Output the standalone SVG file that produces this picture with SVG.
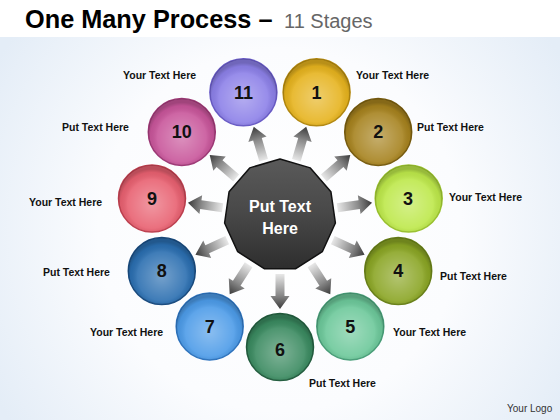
<svg xmlns="http://www.w3.org/2000/svg" width="560" height="420" viewBox="0 0 560 420">
<defs>
<radialGradient id="bg" cx="280" cy="230" r="330" gradientUnits="userSpaceOnUse">
<stop offset="0" stop-color="#ffffff"/>
<stop offset="0.55" stop-color="#fbfcfe"/>
<stop offset="1" stop-color="#e4edf7"/>
</radialGradient>
<radialGradient id="shade" cx="0.5" cy="0.58" r="0.52">
<stop offset="0" stop-color="#ffffff" stop-opacity="0.35"/>
<stop offset="0.7" stop-color="#ffffff" stop-opacity="0.1"/>
<stop offset="0.9" stop-color="#000000" stop-opacity="0.05"/>
<stop offset="1" stop-color="#000000" stop-opacity="0.2"/>
</radialGradient>
<linearGradient id="arr" x1="58" y1="0" x2="93" y2="0" gradientUnits="userSpaceOnUse">
<stop offset="0" stop-color="#e8e8e8"/>
<stop offset="0.6" stop-color="#8a8a8a"/>
<stop offset="1" stop-color="#3a3a3a"/>
</linearGradient>
<linearGradient id="hub" x1="0" y1="0" x2="0" y2="1">
<stop offset="0" stop-color="#5a5a5a"/>
<stop offset="0.5" stop-color="#484848"/>
<stop offset="1" stop-color="#2e2e2e"/>
</linearGradient>
<path id="ar" d="M58,-4.5 L80,-4.5 L80,-9.5 L93,0 L80,9.5 L80,4.5 L58,4.5 Z"/>
</defs>
<style>
.lbl{font-family:"Liberation Sans",Arial,sans-serif;font-weight:bold;font-size:10.5px;fill:#111}
.num{font-family:"Liberation Sans",Arial,sans-serif;font-weight:bold;font-size:18px;fill:#111;text-anchor:middle}
.ov{fill:url(#shade)}
.c{stroke-width:1.5}
</style>
<rect width="560" height="420" fill="url(#bg)"/>
<rect width="560" height="37" fill="#ffffff"/>
<text x="25" y="28" font-family="Liberation Sans,Arial,sans-serif" font-weight="bold" font-size="25.3" fill="#000">One Many Process –</text>
<text x="284" y="28" font-family="Liberation Sans,Arial,sans-serif" font-size="20" fill="#666">11 Stages</text>

<g id="connectors" fill="url(#arr)">
<use href="#ar" transform="translate(280,216) rotate(90)"/>
<use href="#ar" transform="translate(280,216) rotate(57.27)"/>
<use href="#ar" transform="translate(280,216) rotate(24.55)"/>
<use href="#ar" transform="translate(280,216) rotate(-8.18)"/>
<use href="#ar" transform="translate(280,216) rotate(-40.91)"/>
<use href="#ar" transform="translate(280,216) rotate(-73.64)"/>
<use href="#ar" transform="translate(280,216) rotate(-106.36)"/>
<use href="#ar" transform="translate(280,216) rotate(-139.09)"/>
<use href="#ar" transform="translate(280,216) rotate(-171.82)"/>
<use href="#ar" transform="translate(280,216) rotate(155.45)"/>
<use href="#ar" transform="translate(280,216) rotate(122.73)"/>
</g>

<g id="hub">
<polygon points="280,159 310.3,167.9 330.9,191.7 335.4,223 322.3,251.7 295.8,268.7 264.2,268.7 237.7,251.7 224.6,223 229.1,191.7 249.7,167.9" fill="url(#hub)" stroke="#111" stroke-width="1.5" stroke-linejoin="round"/>
<text x="280" y="212" font-family="Liberation Sans,Arial,sans-serif" font-weight="bold" font-size="16" fill="#fff" text-anchor="middle">Put Text</text>
<text x="280" y="234" font-family="Liberation Sans,Arial,sans-serif" font-weight="bold" font-size="16" fill="#fff" text-anchor="middle">Here</text>
</g>

<g id="n1"><circle class="c" cx="316.6" cy="92.3" r="33.5" fill="#e6b31e" stroke="#b58a10"/><circle class="ov" cx="316.6" cy="92.3" r="33.5"/><text class="num" x="316.6" y="98.5">1</text><text class="lbl" x="356" y="79">Your Text Here</text></g>
<g id="n2"><circle class="c" cx="378.2" cy="131.9" r="33.5" fill="#a6821e" stroke="#7a5e10"/><circle class="ov" cx="378.2" cy="131.9" r="33.5"/><text class="num" x="378.2" y="138">2</text><text class="lbl" x="417" y="131">Put Text Here</text></g>
<g id="n3"><circle class="c" cx="408.7" cy="198.5" r="33.5" fill="#bde84a" stroke="#9cc430"/><circle class="ov" cx="408.7" cy="198.5" r="33.5"/><text class="num" x="408" y="204.5">3</text><text class="lbl" x="449" y="201">Your Text Here</text></g>
<g id="n4"><circle class="c" cx="398.2" cy="271" r="33.5" fill="#8aa524" stroke="#6a821a"/><circle class="ov" cx="398.2" cy="271" r="33.5"/><text class="num" x="398.2" y="277">4</text><text class="lbl" x="440" y="280">Put Text Here</text></g>
<g id="n5"><circle class="c" cx="350.3" cy="326.4" r="33.5" fill="#6cc89a" stroke="#4aa07a"/><circle class="ov" cx="350.3" cy="326.4" r="33.5"/><text class="num" x="350.3" y="333">5</text><text class="lbl" x="393" y="336">Your Text Here</text></g>
<g id="n6"><circle class="c" cx="280" cy="347" r="33.5" fill="#3a8a60" stroke="#245f40"/><circle class="ov" cx="280" cy="347" r="33.5"/><text class="num" x="280" y="356">6</text><text class="lbl" x="309" y="387">Put Text Here</text></g>
<g id="n7"><circle class="c" cx="209.7" cy="326.4" r="33.5" fill="#4c9be8" stroke="#2f75c0"/><circle class="ov" cx="209.7" cy="326.4" r="33.5"/><text class="num" x="209.7" y="333">7</text><text class="lbl" x="90" y="336">Your Text Here</text></g>
<g id="n8"><circle class="c" cx="161.8" cy="271" r="33.5" fill="#2a6eb0" stroke="#1a4c80"/><circle class="ov" cx="161.8" cy="271" r="33.5"/><text class="num" x="161.8" y="277">8</text><text class="lbl" x="43" y="276">Put Text Here</text></g>
<g id="n9"><circle class="c" cx="152" cy="198.5" r="33.5" fill="#e86070" stroke="#c04050"/><circle class="ov" cx="152" cy="198.5" r="33.5"/><text class="num" x="152" y="205">9</text><text class="lbl" x="29" y="206">Your Text Here</text></g>
<g id="n10"><circle class="c" cx="181.8" cy="131.9" r="33.5" fill="#c8559a" stroke="#a03a78"/><circle class="ov" cx="181.8" cy="131.9" r="33.5"/><text class="num" x="181.8" y="138">10</text><text class="lbl" x="62" y="131">Put Text Here</text></g>
<g id="n11"><circle class="c" cx="243.4" cy="92.3" r="33.5" fill="#8c80e8" stroke="#6a5cc8"/><circle class="ov" cx="243.4" cy="92.3" r="33.5"/><text class="num" x="243.4" y="98.5">11</text><text class="lbl" x="123" y="79">Your Text Here</text></g>

<text x="507" y="412" font-family="Liberation Sans,Arial,sans-serif" font-size="10" fill="#333">Your Logo</text>
</svg>
